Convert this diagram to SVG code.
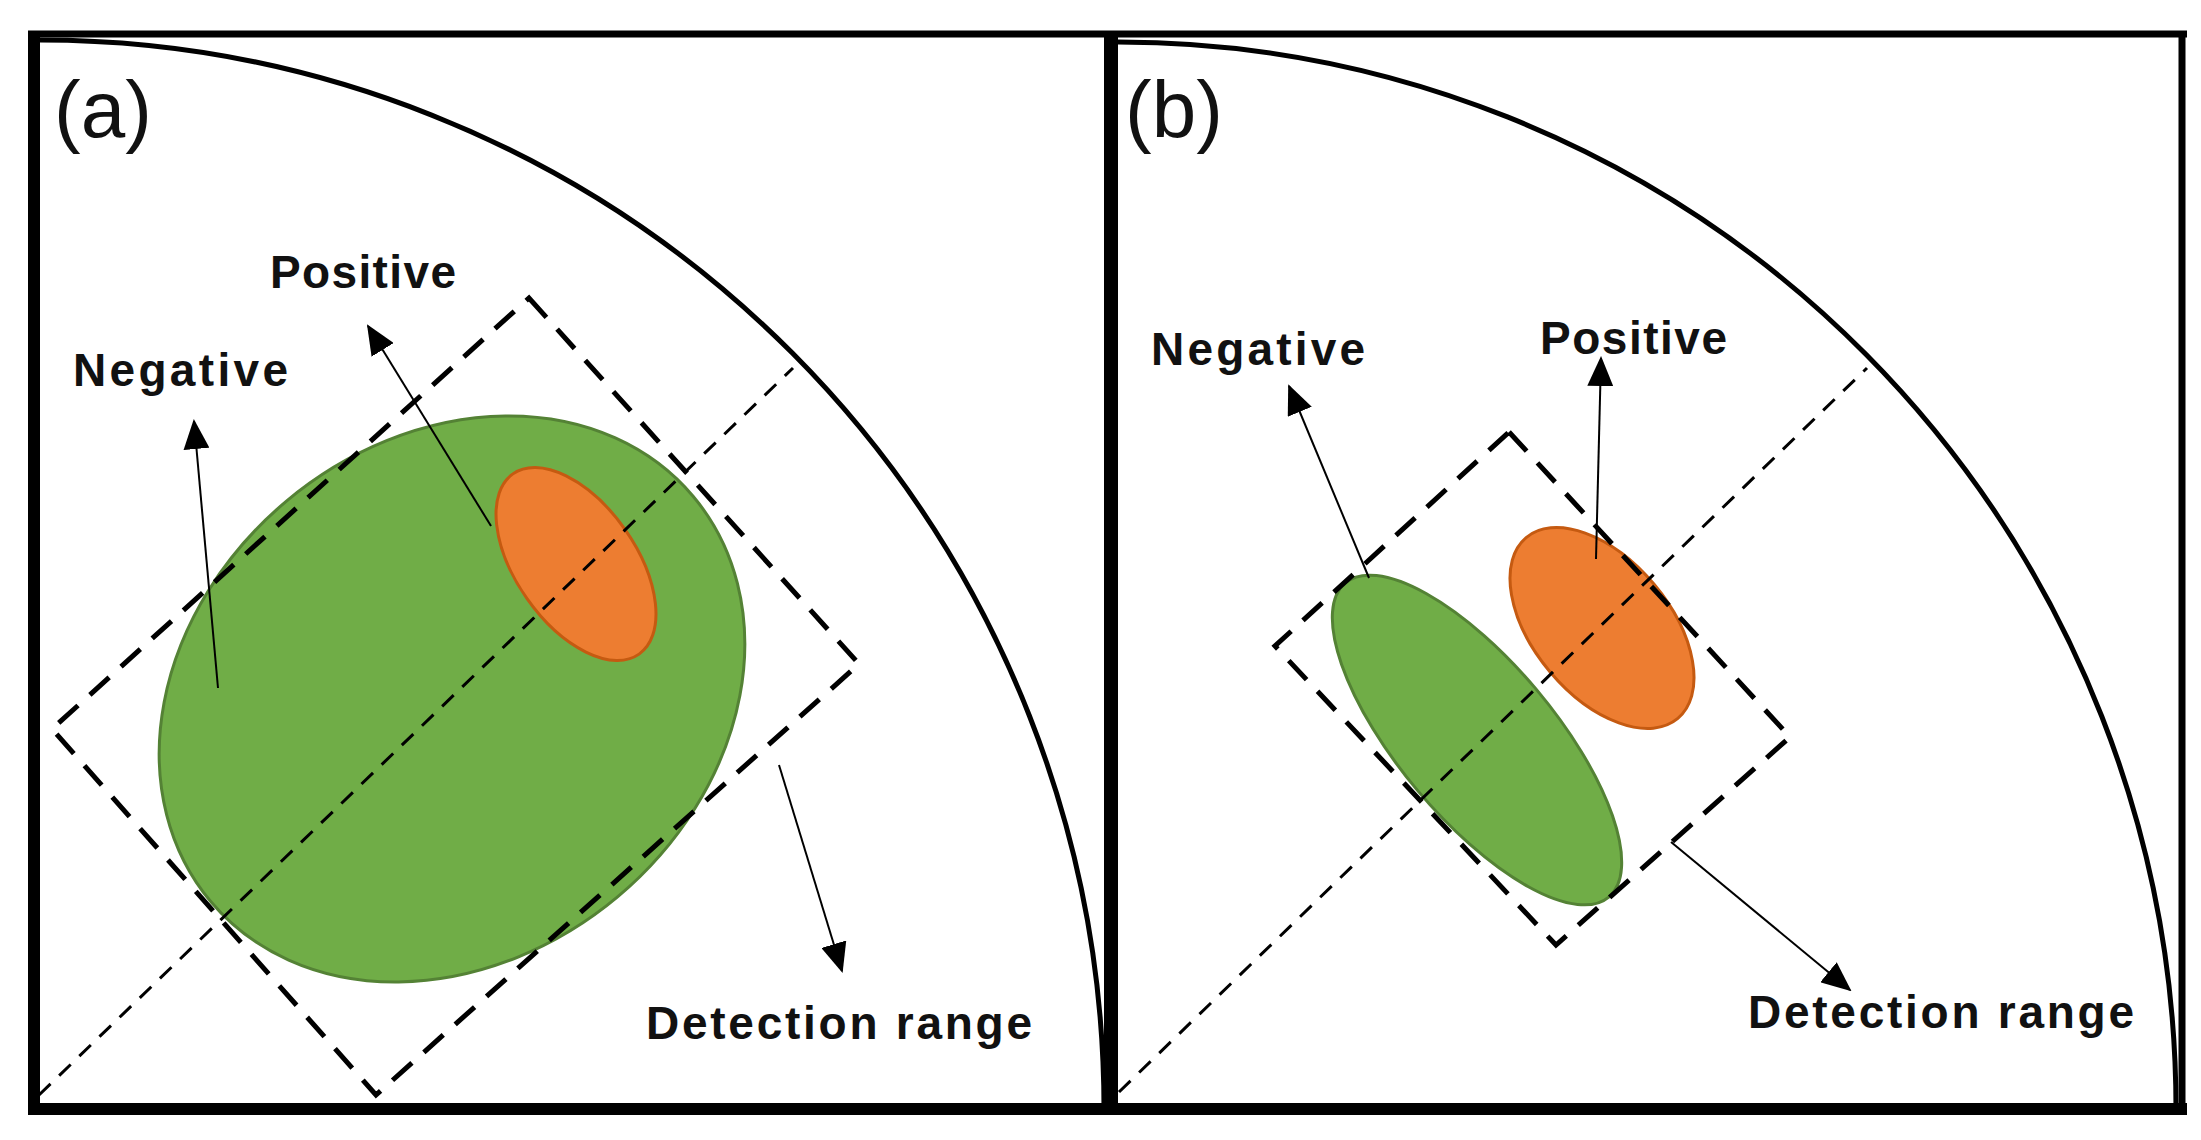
<svg xmlns="http://www.w3.org/2000/svg" width="2201" height="1140" viewBox="0 0 2201 1140">
<style>
.lbl{font-family:"Liberation Sans","Noto Sans",sans-serif;font-weight:bold;font-size:46px;fill:#111}
.tag{font-family:"Liberation Sans","Noto Sans",sans-serif;font-size:80px;fill:#111}
.arc{fill:none;stroke:#000;stroke-width:5}
.axis{fill:none;stroke:#000;stroke-width:3;stroke-dasharray:16 12}
.box{fill:none;stroke:#000;stroke-width:5;stroke-dasharray:26 16}
.arr{stroke:#000;stroke-width:2;fill:none;marker-end:url(#ah)}
.neg{fill:#70AD47;stroke:#548235;stroke-width:3}
.pos{fill:#ED7D31;stroke:#C55A11;stroke-width:3}
</style>
<defs>
<marker id="ah" markerUnits="userSpaceOnUse" markerWidth="30" markerHeight="26" refX="28" refY="13" orient="auto">
<path d="M0,0 L30,13 L0,26 Z" fill="#000"/>
</marker>
</defs>
<rect width="2201" height="1140" fill="#fff"/>
<g id="frame" fill="none" stroke="#000">
<line x1="28" y1="34" x2="2187" y2="34" stroke-width="7"/>
<line x1="34" y1="31" x2="34" y2="1115" stroke-width="12"/>
<line x1="28" y1="1109" x2="2187" y2="1109" stroke-width="12"/>
<line x1="1111" y1="31" x2="1111" y2="1115" stroke-width="14"/>
<line x1="2182" y1="31" x2="2182" y2="1115" stroke-width="7"/>
</g>
<g id="panel-a">
<path class="arc" d="M40,40 A1064,1069 0 0 1 1104,1109"/>
<g id="a-negative-region"><ellipse class="neg" cx="452" cy="699" rx="315" ry="258" transform="rotate(-40 452 699)"/></g>
<g id="a-positive-region"><ellipse class="pos" cx="576" cy="564" rx="110" ry="60" transform="rotate(55 576 564)"/></g>
<g id="a-axis"><line class="axis" x1="39" y1="1095" x2="793" y2="368"/></g>
<g id="a-detection-box"><polygon class="box" points="529,298 859,664 376,1095 52,729"/></g>
<g id="a-connectors">
<line class="arr" x1="218" y1="688" x2="194" y2="421"/>
<line class="arr" x1="491" y1="526" x2="368" y2="326"/>
<line class="arr" x1="779" y1="765" x2="842" y2="971"/>
</g>
<text class="tag" x="54" y="137">(a)</text>
<text class="lbl" x="270" y="288" textLength="186">Positive</text>
<text class="lbl" x="73" y="386" textLength="215">Negative</text>
<text class="lbl" x="646" y="1039" textLength="386">Detection range</text>
</g>
<g id="panel-b">
<path class="arc" d="M1118,42 A1058,1067 0 0 1 2176,1109"/>
<g id="b-negative-region"><ellipse class="neg" cx="1477" cy="740" rx="205" ry="78" transform="rotate(50 1477 740)"/></g>
<g id="b-positive-region"><ellipse class="pos" cx="1602" cy="628" rx="118" ry="68" transform="rotate(50 1602 628)"/></g>
<g id="b-axis"><line class="axis" x1="1119" y1="1092" x2="1867" y2="368"/></g>
<g id="b-detection-box"><polygon class="box" points="1509,432 1790,737 1556,945 1275,646"/></g>
<g id="b-connectors">
<line class="arr" x1="1369" y1="578" x2="1289" y2="386"/>
<line class="arr" x1="1596" y1="559" x2="1601" y2="358"/>
<line class="arr" x1="1671" y1="842" x2="1850" y2="990"/>
</g>
<text class="tag" x="1125" y="137">(b)</text>
<text class="lbl" x="1540" y="354" textLength="187">Positive</text>
<text class="lbl" x="1151" y="365" textLength="214">Negative</text>
<text class="lbl" x="1748" y="1028" textLength="386">Detection range</text>
</g>
</svg>
